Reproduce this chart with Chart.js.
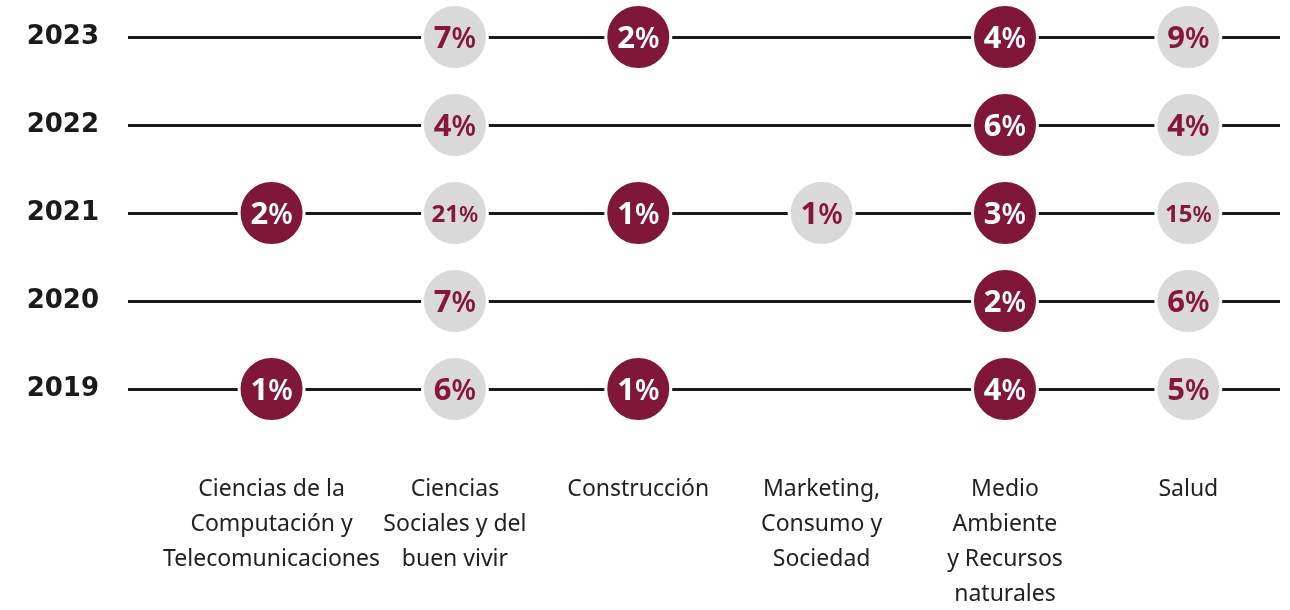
<!DOCTYPE html>
<html>
<head>
<meta charset="utf-8">
<script src="https://cdn.jsdelivr.net/npm/chart.js@4.4.1/dist/chart.umd.min.js"></script>
<style>
  html, body { margin: 0; padding: 0; background: #ffffff; }
  #wrap { width: 1290px; height: 610px; position: relative; }
</style>
</head>
<body>
<div id="wrap"><canvas id="c" width="1290" height="610"></canvas></div>
<script>
// ---- Data ----
const years = ['2023', '2022', '2021', '2020', '2019'];
const categories = [
  ['Ciencias de la', 'Computación y', 'Telecomunicaciones'],
  ['Ciencias', 'Sociales y del', 'buen vivir'],
  ['Construcción'],
  ['Marketing,', 'Consumo y', 'Sociedad'],
  ['Medio', 'Ambiente', 'y Recursos', 'naturales'],
  ['Salud']
];
// values per year, in the same order as `years` (null = no circle)
const computacion   = [null, null, 2, null, 1];
const sociales      = [7, 4, 21, 7, 6];
const construccion  = [2, null, 1, null, 1];
const marketing     = [null, null, 1, null, null];
const medioAmbiente = [4, 6, 3, 2, 4];
const salud         = [9, 4, 15, 6, 5];
const seriesValues = [computacion, sociales, construccion, marketing, medioAmbiente, salud];

// ---- Styles ----
const MAROON = '#801638';
const GREY = '#d9d9d9';
const highlighted = [true, false, true, false, true, false];

const datasets = seriesValues.map((vals, ci) => {
  const pts = [];
  vals.forEach((v, yi) => { if (v !== null) pts.push({ x: ci, y: years[yi], v: v }); });
  const hl = highlighted[ci];
  return {
    data: pts,
    pointRadius: 32.5,
    pointHoverRadius: 32.5,
    pointBackgroundColor: hl ? MAROON : GREY,
    pointBorderColor: '#ffffff',
    pointBorderWidth: 3,
    pointHoverBorderWidth: 3,
    showLine: false,
    clip: false,
    labelColor: hl ? '#ffffff' : '#86163c'
  };
});

const valueLabels = {
  id: 'valueLabels',
  afterDatasetsDraw(chart) {
    const ctx = chart.ctx;
    chart.data.datasets.forEach((ds, di) => {
      const meta = chart.getDatasetMeta(di);
      meta.data.forEach((el, i) => {
        const v = ds.data[i].v;
        const small = v >= 10;
        const numFont = small ? 'bold 24px "Noto Sans"' : 'bold 31px "Noto Sans"';
        const pctFont = small ? '600 22px "Noto Sans"' : '600 28px "Noto Sans"';
        ctx.save();
        ctx.fillStyle = ds.labelColor;
        ctx.textBaseline = 'middle';
        ctx.textAlign = 'left';
        const s = String(v);
        ctx.font = numFont; const w1 = ctx.measureText(s).width;
        ctx.font = pctFont; const w2 = ctx.measureText('%').width;
        const x0 = el.x - (w1 + w2) / 2;
        ctx.font = numFont; ctx.fillText(s, x0, el.y + 2);
        ctx.font = pctFont; ctx.fillText('%', x0 + w1, el.y + 3);
        ctx.restore();
      });
    });
  }
};

new Chart(document.getElementById('c'), {
  type: 'scatter',
  data: { datasets: datasets },
  plugins: [valueLabels],
  options: {
    responsive: false,
    animation: false,
    events: [],
    layout: { autoPadding: false, padding: { top: 37, right: 10, bottom: 0, left: 0 } },
    plugins: { legend: { display: false }, tooltip: { enabled: false } },
    scales: {
      x: {
        type: 'linear',
        min: -0.783,
        max: 5.5,
        afterBuildTicks: (s) => { s.ticks = categories.map((_, i) => ({ value: i })); },
        afterFit: (s) => { s.height = 221; s.paddingLeft = 0; s.paddingRight = 0; },
        grid: { display: false, drawTicks: false },
        border: { display: false },
        ticks: {
          autoSkip: false,
          maxRotation: 0,
          minRotation: 0,
          padding: 83,
          color: '#222222',
          font: { family: '"Noto Sans"', size: 23, lineHeight: '35px' },
          callback: (value) => categories[value]
        }
      },
      y: {
        type: 'category',
        labels: years,
        offset: false,
        afterFit: (s) => { s.width = 128; s.paddingTop = 0; s.paddingBottom = 0; },
        grid: { color: '#1a1a1a', lineWidth: 3, drawTicks: false },
        border: { display: false },
        ticks: {
          padding: 29,
          color: '#1a1a1a',
          font: { family: '"DejaVu Sans"', weight: 'bold', size: 26 }
        }
      }
    }
  }
});
</script>
</body>
</html>
